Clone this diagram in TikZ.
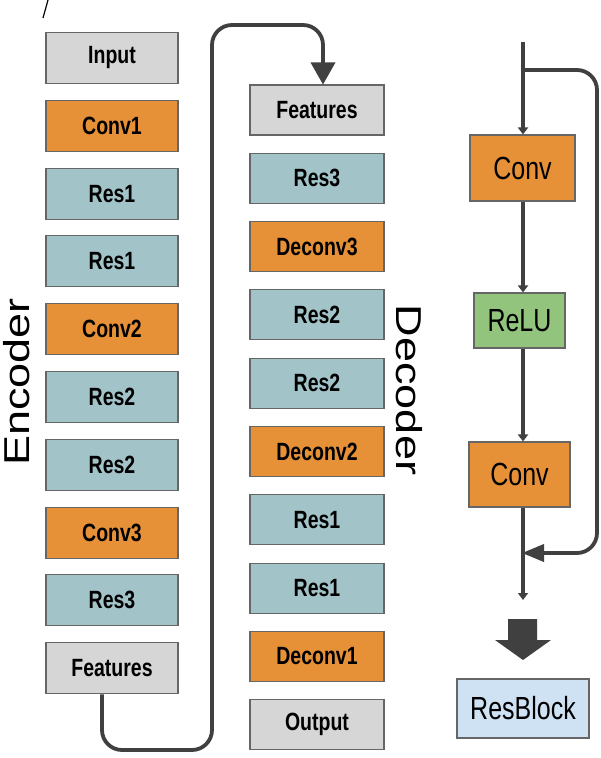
\documentclass[tikz,border=0pt]{standalone}
\usepackage{fontspec}
\usepackage{graphicx}
\setmainfont{Liberation Sans}
\usetikzlibrary{arrows.meta}
\definecolor{cgray}{HTML}{D6D6D6}
\definecolor{corange}{HTML}{E69138}
\definecolor{cteal}{HTML}{A2C4C9}
\definecolor{cgreen}{HTML}{93C47D}
\definecolor{cblue}{HTML}{CFE2F3}
\definecolor{cline}{HTML}{404040}
\definecolor{cborder}{HTML}{666666}
\newcommand\tallA[1]{\scalebox{1}[1.28]{#1}}
\newcommand\wideA[1]{\scalebox{1.25}[1]{#1}}
\begin{document}
\begin{tikzpicture}[x=1pt,y=-1pt,
  blk/.style={draw=cborder, line width=1.1pt, minimum width=132pt, minimum height=51pt, inner sep=0pt,
    font=\fontsize{19.5}{20}\selectfont\bfseries},
  gbox/.style={blk, fill=cgray},
  obox/.style={blk, fill=corange},
  tbox/.style={blk, fill=cteal},
  dbox/.style={minimum width=134pt, minimum height=50pt},
  rbox/.style={draw=cborder, line width=1.1pt, inner sep=0pt, font=\fontsize{25}{26}\selectfont},
  conn/.style={draw=cline, line width=3.8pt, rounded corners=20pt},
  thin/.style={draw=cline, line width=3.5pt, -{Triangle[width=10pt,length=7pt]}},
]
\useasboundingbox (0,0) rectangle (600,758);
% stray slash
\draw[line width=1.2pt] (43,18) -- (48,0);

% Encoder
\foreach \n/\s/\t [count=\i from 0] in {e1/gbox/Input, e2/obox/Conv1, e3/tbox/Res1, e4/tbox/Res1, e5/obox/Conv2, e6/tbox/Res2, e7/tbox/Res2, e8/obox/Conv3, e9/tbox/Res3, e10/gbox/Features}
  \node[\s] (\n) at (112, 58+67.8*\i) {\tallA{\t}};

% Decoder
\foreach \n/\s/\t [count=\i from 0] in {d1/gbox/Features, d2/tbox/Res3, d3/obox/Deconv3, d4/tbox/Res2, d5/tbox/Res2, d6/obox/Deconv2, d7/tbox/Res1, d8/tbox/Res1, d9/obox/Deconv1, d10/gbox/Output}
  \node[\s, dbox] (\n) at (317, 110+68.3*\i) {\tallA{\t}};

\node[rotate=90, font=\fontsize{36}{38}\selectfont] (enc) at (17,382) {\wideA{Encoder}};
\node[rotate=-90, font=\fontsize{36}{38}\selectfont] (dec) at (409,390) {\wideA{Decoder}};

% Encoder -> Decoder connector
\coordinate (cA) at (102,750);
\coordinate (cB) at (212,750);
\coordinate (cC) at (212,25);
\coordinate (cD) at (323,25);
\draw[conn] ([xshift=-10pt]e10.south) -- ([xshift=-10pt]e10.south |- cA) -- (cB) -- (cC) -- (cD) -- ([xshift=6pt]d1.north |- 0,66);
\draw[draw=none, fill=cline] ([xshift=6pt]d1.north) -- ++(-12.5,-22) -- ++(25,0) -- cycle;

% ResBlock
\node[rbox, fill=corange, minimum width=105pt, minimum height=66pt] (rc1) at (522.5,168) {\tallA{Conv}};
\node[rbox, fill=cgreen, minimum width=91pt, minimum height=55pt] (rr) at (519.5,320.5) {\tallA{ReLU}};
\node[rbox, fill=corange, minimum width=101pt, minimum height=65pt] (rc2) at (519.5,474.5) {\tallA{Conv}};
\node[rbox, fill=cblue, minimum width=132pt, minimum height=59pt] (rb) at (523,708.5) {\tallA{ResBlock}};

\coordinate (top) at (523,42);
\coordinate (br) at (523,70);
\coordinate (sk1) at (597,70);
\coordinate (sk2) at (597,553);
\coordinate (mg) at (523,553);
\coordinate (bot) at (523,600);

\draw[thin] (top) -- (rc1.north -| top);
\draw[thin] (rc1.south -| top) -- (rr.north -| top);
\draw[thin] (rr.south -| top) -- (rc2.north -| top);
\draw[thin] (rc2.south -| top) -- (bot);
\draw[conn, -{Triangle[width=17pt,length=22pt]}] (br) -- (sk1) -- (sk2) -- ([xshift=-1pt]mg);

% big block arrow
\fill[cline] (508,619) -- (537,619) -- (537,640) -- (551,640) -- (523,660) -- (495,640) -- (508,640) -- cycle;
\end{tikzpicture}
\end{document}
